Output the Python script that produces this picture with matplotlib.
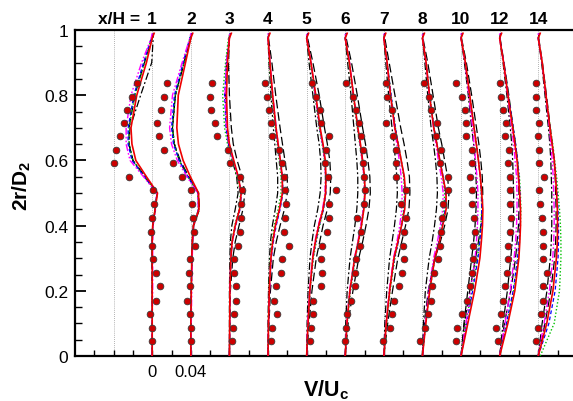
# Radial velocity profiles V/Uc at several x/H stations, offset by 0.04
import numpy as np
import matplotlib.pyplot as plt
from matplotlib.ticker import MultipleLocator

plt.rcParams['font.family'] = ['Liberation Sans', 'DejaVu Sans']
plt.rcParams['mathtext.fontset'] = 'custom'
plt.rcParams['mathtext.rm'] = 'Liberation Sans'
plt.rcParams['mathtext.bf'] = 'Liberation Sans:bold'

stations = ['1', '2', '3', '4', '5', '6', '7', '8', '10', '12', '14']
offsets = [0.0, 0.04, 0.08, 0.12, 0.16, 0.20, 0.24, 0.28, 0.32, 0.36, 0.40]

# y levels of the model curves (2r/D2)
y_knots = [0, 0.1, 0.2, 0.3, 0.35, 0.4, 0.45, 0.5, 0.55, 0.6, 0.65, 0.7, 0.8, 0.9, 0.975, 0.99]

# model curves, V/Uc relative to each station baseline, in units of 1e-3
red = [
    [0, 0, 0, 0, 0, 0.5, 3, 5.5, -6, -17, -21, -22, -16, -6, 0, 2],
    [0, 0, 0.5, 1, 1.5, 2.7, 8.5, 8, -0.5, -8, -12.8, -14.5, -13, -5.5, 0, 2],
    [0, 0.3, 0.5, 1.5, 2.8, 6, 10.5, 12.2, 9.2, 4.5, 0, -2, -3, -2, 0, 2],
    [0, 0.5, 1.3, 3, 4.8, 7.6, 11.8, 15, 14.8, 12.8, 10.5, 8.3, 4.8, 2, 0, 2],
    [0, 1.5, 3.3, 6.3, 9, 12.5, 17, 19.7, 20, 19.3, 17, 14, 9.5, 4.5, 0, 2],
    [0, 1.8, 4.8, 9.8, 13.5, 16.8, 19.3, 20.6, 20, 18, 15.8, 13.1, 8.6, 4.3, 0, 2],
    [0, 2.5, 6, 10.5, 14.5, 18.3, 21.6, 22.5, 21.2, 18, 14.8, 11.4, 6.9, 3.4, 0, 2],
    [0, 3.5, 7.5, 12.8, 17.5, 21, 24.5, 24.5, 21.2, 18, 15, 11.7, 7.3, 3.8, 0, 2],
    [0, 7, 14, 19.5, 21, 22.2, 22.6, 21.4, 20, 18, 15.8, 13.5, 9, 4.5, 0, 2],
    [0, 8.5, 15.7, 19.9, 20.9, 21.6, 21.6, 20.7, 19.5, 18, 15.8, 13.5, 8.6, 4.1, 0, 2],
    [0, 8.8, 15.2, 18.8, 19.8, 20, 19.8, 19, 17.9, 16.6, 14.4, 12.1, 8, 4.1, 0, 2],
]
blue = [
    [0, 0, 0, 0, 0, 0.5, 3, 5, -8, -21, -25, -25, -19, -9, -1, 1],
    [0, 0, 0.5, 1, 1.5, 2.5, 8, 7.5, -3, -12, -18, -20, -17, -8, -1, 1],
    [0, 0.3, 0.5, 1.5, 3, 6.5, 11, 12.5, 9, 4, -1, -3.5, -5, -3, 0, 1],
    [0, 0.5, 1.5, 3.5, 5.5, 8.5, 12.5, 15.5, 15, 12.5, 10, 8, 4.5, 2, 0, 1],
    [0, 1.5, 3.5, 6.5, 9.5, 13, 17.5, 20, 20, 19, 16.5, 13.5, 9, 4.5, 0, 1],
    [0, 2, 5, 10, 13.5, 16.5, 19, 20.5, 20, 18, 15.5, 13, 8.5, 4.5, 0, 1],
    [0, 2.5, 6, 11, 15, 18.5, 21, 22, 21, 18, 15, 12, 7.5, 3.5, 0, 1],
    [0, 3, 7, 12.5, 17, 20.5, 23.5, 24, 21.5, 18, 15, 12, 7.5, 3.8, 0, 1],
    [0, 6, 12, 17.5, 19.5, 21, 21.5, 21, 20, 18, 16, 13.5, 9, 4.5, 0, 1],
    [0, 7, 14, 18.5, 20, 21, 21.5, 21, 20, 18.5, 16.5, 14, 9, 4.3, 0, 1],
    [0, 11, 17.5, 20.5, 21, 21, 20.5, 19.5, 18, 16.5, 14.5, 12, 8, 4, 0, 1],
]
green = [
    [0, 0, 0, 0, 0, 0.5, 3, 5, -8, -20, -24, -24, -18, -8, -1, 1],
    [0, 0, 0.5, 1, 1.5, 2.5, 8, 7.5, -3, -12, -17, -19, -16, -7, -1, 1],
    [0, 0.3, 0.5, 1.5, 2.5, 5.5, 10, 11.5, 8, 3, -2, -5, -7, -4, -1, 1],
    [0, 0.5, 1, 2.5, 4, 6.5, 10.5, 13.5, 13.5, 11.5, 9.5, 7.5, 4, 1.5, 0, 1],
    [0, 1.5, 3.5, 7, 10, 13.5, 17.5, 19.5, 19.5, 18.5, 16, 13, 8.5, 4, 0, 1],
    [0, 2, 5.5, 10.5, 14, 17, 19, 20, 19.5, 17.5, 15, 12.5, 8, 4, 0, 1],
    [0, 3, 6.5, 11.5, 15, 18, 20.5, 21.5, 20.5, 18, 15, 12, 7.5, 3.5, 0, 1],
    [0, 3.5, 7.5, 13, 17, 20, 22.5, 23, 21, 18, 15, 12, 7.5, 3.8, 0, 1],
    [0, 5, 11, 17, 19, 20.5, 21.5, 21, 20, 18, 16, 13.5, 9, 4.5, 0, 1],
    [0, 7.5, 14.5, 19, 20.5, 21.5, 22, 21.5, 20.5, 18.5, 16.5, 14, 9, 4.3, 0, 1],
    [2, 16.5, 22, 23.5, 23.5, 23, 22, 20.5, 19, 17, 15, 12.5, 8, 4, 0, 1],
]
magenta = [
    [0, 0, 0.5, 0.5, 0.5, 1, 3.5, 4.5, -9, -23, -27, -27, -22, -11, -1, 0],
    [0, 0.5, 1, 1.5, 2, 3, 8, 7, -4, -14, -20, -22, -19, -9, -1, 0],
    [0, 0.3, 0.5, 1.5, 3, 6, 10.5, 12, 9, 4, -0.5, -3, -4.5, -3, 0, 0],
    [0, 0.5, 1.5, 3, 5, 8, 12, 15, 14.5, 12.5, 10.5, 8.5, 5, 2, 0, 0],
    [0, 1, 3, 6, 8.5, 12, 16.5, 19, 19.5, 19, 16.5, 13.5, 9, 4.5, 0, 0],
    [0, 1.5, 4.5, 9.5, 13, 16, 18.5, 20, 19.5, 17.5, 15.5, 13, 8.5, 4.5, 0, 0],
    [0, 2.5, 5.5, 10, 13.5, 16.5, 18.5, 19, 18, 16, 13.5, 11, 6.8, 3.4, 0, 0],
    [0, 3, 6.5, 11.5, 15.5, 18.5, 21, 21.5, 19.5, 16.5, 14, 11.5, 7, 3.8, 0, 0],
    [0, 5, 10, 14.5, 16, 17, 17.5, 17.5, 16.5, 15, 13.5, 12, 8, 4.3, 0, 0],
    [0, 5.5, 11, 15, 16.5, 17.5, 18, 18, 17.5, 16, 14.5, 12.5, 8.3, 4, 0, 0],
    [0, 6, 11.5, 15, 16, 16.5, 16.5, 16, 15.5, 14.5, 13, 11.5, 7.8, 4, 0, 0],
]
black_dashdot = [
    [0, 0, 0, 0, 0, 0.5, 3, 5, -7, -20, -24, -23, -12, -0.5, 1, 1],
    [0, 0, 0.5, 1, 1.5, 2.5, 8, 7.5, -3, -12, -17, -19, -16, -7, 0, 1],
    [0, 0, 0, 0.5, 1, 2.5, 6, 9, 7.5, 3, -1, -3, -4, -3, -0.5, 1],
    [0, 0, 0.5, 1.5, 2.5, 4.5, 7.5, 10, 10, 8.5, 7, 5.5, 3, 1, 0, 1],
    [0, 0.5, 1.5, 3.5, 5.5, 8, 11.5, 14, 15, 14.5, 13, 10.5, 6.5, 2.5, 0, 1],
    [0, 0.5, 2, 5, 7.5, 10, 12, 13, 13, 12, 10.5, 9, 6, 2.5, 0, 1],
    [0, 1, 3, 6, 8.5, 11, 13, 14, 13.5, 12, 10.5, 8.5, 5, 2, 0, 1],
    [0, 1, 3, 7, 10, 12.5, 14.5, 15.5, 15, 13.5, 11.5, 9, 5.5, 2.5, 0, 1],
    [0, 3, 7, 11, 13, 14.5, 15.5, 16, 15.5, 14.5, 13, 11, 7.5, 3.5, 0, 1],
    [0, 3.5, 8, 11.5, 13, 14, 14.5, 14.5, 14, 13.5, 12.5, 11, 7.5, 3.5, 0, 1],
    [0, 4, 9, 12.5, 13.5, 14, 14, 14, 13.5, 13, 12, 10.5, 7, 3.5, 0, 1],
]
black_dashed = [
    [0, 0, 0, 0, 0, 0.5, 3, 5, -8, -20, -24, -24, -18, -8, 0, 1],
    [0, 0, 0.5, 1, 2, 3, 9, 8, -2, -11, -17, -19, -16, -7, 0, 1],
    [0, 0.5, 1, 3.5, 6, 10, 14, 16, 13, 8, 4, 2, 0, -1, 0, 1],
    [0, 1, 2.5, 5.5, 8.5, 12.5, 17, 20, 20, 17.5, 15, 12.5, 8, 4, 0.5, 1],
    [0, 2.5, 5.5, 10, 13.5, 17, 21.5, 24.5, 25, 24, 21.5, 18.5, 13, 6.5, 1, 1],
    [0, 3, 8, 14, 18, 21.5, 24.5, 26, 25.5, 23.5, 21, 18, 12.5, 6.5, 1, 1],
    [0, 4, 9, 14.5, 18.5, 22.5, 26, 27, 26.5, 24, 21, 17.5, 11.5, 5.5, 1, 1],
    [0, 2, 6, 13, 18.5, 23, 26.5, 27.5, 26, 23, 20, 16.5, 11, 5.5, 0.5, 1],
    [0, 3.5, 9, 15, 18, 20.5, 22, 22.5, 22, 20.5, 18.5, 16, 11, 5.5, 0.5, 1],
    [0, 5, 11.5, 16.5, 18, 19.5, 20, 20, 19.5, 18.5, 16.5, 14, 9.5, 4.5, 0.5, 1],
    [0, 7, 13, 17, 18, 18.5, 18.5, 18, 17.5, 16.5, 14.5, 12.5, 8.5, 4.3, 0.5, 1],
]

# experiment (red dots), same y levels at every station
dot_y = [0.045, 0.085, 0.128, 0.170, 0.214, 0.254, 0.297, 0.337, 0.380, 0.422,
         0.465, 0.508, 0.550, 0.592, 0.633, 0.674, 0.714, 0.755, 0.796, 0.837]
dots = [
    [0.3, -0.3, -2.8, 3.8, 8.0, 3.8, 1.3, -0.3, -1.0, -0.7, 2.1, 1.3, -24.1, -39.7, -37.3, -33.2, -29.0, -25.9, -21.0, -15.9],
    [-0.3, 0, -0.7, -4.1, -1.0, -1.4, -0.7, 4.3, 3.3, 2.5, 1.4, 0.3, -9.0, -18.0, -27.3, -32.8, -35.2, -30.7, -27.3, -24.2],
    [3.1, 3.8, 4.8, 6.9, 6.6, 5.2, 4.5, 9.0, 11.4, 12.0, 11.7, 13.5, 10.7, 1.0, -1.3, -12.4, -15.2, -18.7, -20.4, -17.6],
    [2.8, 3.8, 9.7, 6.2, 8.0, 13.1, 14.2, 21.4, 16.9, 18.0, 18.3, 17.6, 17.0, 14.2, 11.4, 4.5, 2.9, 0.5, -1.2, -3.4],
    [3.5, 4.1, 6.2, 6.9, 15.2, 16.2, 15.2, 16.2, 20.7, 23.5, 23.5, 30.0, 21.8, 19.0, 20.0, 23.1, 15.2, 13.8, 9.3, 5.9],
    [0, 0.3, 2.1, 5.5, 10.4, 10.4, 11.4, 14.8, 16.6, 12.4, 19.0, 20.0, 19.0, 18.3, 18.0, 15.9, 14.2, 10.7, 8.0, 0.3],
    [-0.7, 6.4, 8.0, 10.4, 15.9, 19.0, 21.0, 19.4, 21.0, 23.0, 17.3, 22.8, 13.1, 12.1, 13.1, 9.0, 2.1, 8.6, 3.5, 2.1],
    [-2.1, 2.8, 5.5, 9.0, 9.7, 12.4, 15.9, 18.7, 19.4, 20.0, 21.0, 26.2, 26.2, 18.7, 19.4, 14.2, 15.2, 9.0, 6.6, 1.4],
    [-4.8, -3.8, 1.4, 6.0, 9.0, 11.5, 12.4, 12.8, 14.5, 13.5, 11.7, 11.0, 9.3, 11.7, 11.0, 4.8, 5.5, 4.1, 1.4, -4.8],
    [-1.7, -3.8, 1.4, 3.1, 5.9, 7.6, 8.6, 8.6, 11.0, 12.1, 11.0, 11.0, 10.4, 8.3, 9.3, 5.9, 6.9, 3.1, 1.4, 0],
    [-2.8, 0, 2.8, 4.5, 4.5, 8.6, 4.5, 4.5, 5.2, 3.5, 2.0, 0.7, 6.2, 0.7, 1.0, 0, 0.7, -2.8, -2.8, -2.8],
]

guide_x = [-0.04] + offsets

fig = plt.figure(figsize=(5.73, 4.02), dpi=100)
ax = fig.add_axes([75 / 573, 45 / 402, 498 / 573, 326 / 402])

for gx in guide_x:
    ax.plot([gx, gx], [0, 1], color='#999999', lw=0.6, ls=(0, (1, 1.5)), zorder=1)

styles = [
    (black_dashdot, dict(color='black', lw=0.9, ls=(0, (6, 2, 1.5, 2)))),
    (black_dashed, dict(color='black', lw=0.9, ls=(0, (7, 3)))),
    (green, dict(color='#00c000', lw=1.0, ls=(0, (1, 1.5)))),
    (blue, dict(color='#0000ff', lw=0.9, ls=(0, (3, 2)))),
    (magenta, dict(color='#ff00ff', lw=1.0, ls=(0, (5, 1.5, 1.2, 1.5, 1.2, 1.5)))),
    (red, dict(color='#ee0000', lw=1.2, ls='-')),
]

for k, off in enumerate(offsets):
    for curves, kw in styles:
        ax.plot(off + np.array(curves[k]) / 1000, y_knots, zorder=3, **kw)
    ax.plot(off + np.array(dots[k]) / 1000, dot_y, 'o', ms=4.8, mfc='#cc0000',
            mec='#3a3a3a', mew=0.6, zorder=5)
    ax.text(off, 1.036, stations[k], ha='center', va='center', fontsize=12.5,
            fontweight='bold', clip_on=False)

ax.text(offsets[0] - 0.0075, 1.036, 'x/H = ', ha='right', va='center', fontsize=12.5,
        fontweight='bold', clip_on=False)

ax.set_xlim(-0.08, 0.436)
ax.set_ylim(0, 1)

ax.spines['right'].set_visible(False)
for s in ['left', 'bottom', 'top']:
    ax.spines[s].set_linewidth(1.6)

xt = np.round(np.arange(-0.06, 0.43, 0.02), 2)
ax.set_xticks(xt)
ax.set_xticklabels(['0' if t == 0 else ('0.04' if t == 0.04 else '') for t in xt])
ax.tick_params(axis='x', direction='in', length=4.5, width=1.0, labelsize=12, pad=6,
               top=False)

ax.yaxis.set_major_locator(MultipleLocator(0.2))
ax.yaxis.set_minor_locator(MultipleLocator(0.05))
ax.set_yticks([0, 0.2, 0.4, 0.6, 0.8, 1.0])
ax.set_yticklabels(['0', '0.2', '0.4', '0.6', '0.8', '1'])
ax.tick_params(axis='y', which='major', direction='in', length=8, width=1.3,
               labelsize=12.5, pad=5)
ax.tick_params(axis='y', which='minor', direction='in', length=5, width=1.0)

fig.text(22 / 573, 1 - 186 / 402, r'2r/D$_\mathbf{2}$', rotation=90, ha='center',
         va='center', fontsize=15, fontweight='bold')
fig.text(326 / 573, 6 / 402, r'V/U$_\mathbf{c}$', ha='center', va='baseline',
         fontsize=15.5, fontweight='bold')

fig.savefig('out.png', dpi=100)
